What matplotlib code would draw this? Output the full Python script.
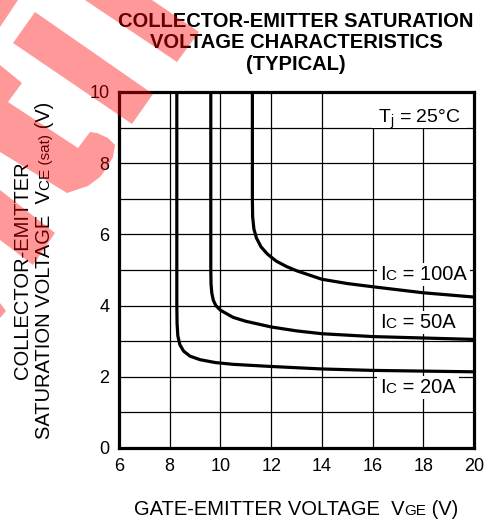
import numpy as np
import matplotlib; matplotlib.use('Agg')
import matplotlib.pyplot as plt
import matplotlib.transforms as mtransforms
from matplotlib.patches import Polygon, Rectangle

plt.rcParams['font.family'] = ['Liberation Sans', 'DejaVu Sans']
plt.rcParams['mathtext.fontset'] = 'custom'
plt.rcParams['mathtext.rm'] = 'Liberation Sans'

# curves (VGE [V], VCE(sat) [V])
VGE_20A = [8.28, 8.28, 8.29, 8.32, 8.40, 8.55, 8.80, 9.20, 9.80, 10.5, 12.0, 14.0, 16.0, 18.0, 20.0]
VCE_20A = [10.5, 4.00, 3.50, 3.15, 2.90, 2.72, 2.58, 2.48, 2.40, 2.35, 2.29, 2.22, 2.18, 2.16, 2.14]
VGE_50A = [9.62, 9.62, 9.63, 9.66, 9.72, 9.82, 10.0, 10.5, 11.0, 12.0, 13.0, 14.0, 16.0, 18.0, 20.0]
VCE_50A = [10.5, 5.00, 4.60, 4.35, 4.15, 4.00, 3.87, 3.67, 3.56, 3.40, 3.29, 3.21, 3.13, 3.09, 3.05]
VGE_100A = [11.26, 11.26, 11.27, 11.32, 11.42, 11.6, 11.85, 12.2, 12.6, 13.0, 14.0, 15.0, 16.0, 18.0, 20.0]
VCE_100A = [10.5, 7.00, 6.50, 6.15, 5.90, 5.65, 5.45, 5.25, 5.10, 4.98, 4.74, 4.62, 4.53, 4.36, 4.24]
CURVE_LABELS = ['100A', '50A', '20A']
LABEL_X = [16.29, 16.29, 16.29]
LABEL_Y = [4.72, 3.37, 1.54]

X_TICKS = [6, 8, 10, 12, 14, 16, 18, 20]
Y_TICKS = [0, 2, 4, 6, 8, 10]
Y_GRID = [0, 1, 2, 3, 4, 5, 6, 7, 8, 9, 10]

TITLE = ['COLLECTOR-EMITTER SATURATION', 'VOLTAGE CHARACTERISTICS', '(TYPICAL)']

# red watermark pieces, image pixels (x right, y down)
WATERMARK = [
    [(0, 0), (18, 0), (0, 27)],
    [(85, 0), (177, 62), (199, 32), (152, 0)],
    [(35, 12), (153, 94), (132, 124), (13, 43)],
    [(0, 65), (22, 83), (8, 102), (78, 148), (84, 140), (90, 132), (97, 133), (108, 138),
     (115, 145), (113, 157), (107, 168), (100, 177), (88, 186), (67, 193), (0, 152)],
    [(0, 190), (55, 233), (33, 265), (0, 240)],
    [(0, 303), (6, 311), (0, 318)],
]

W, H = 491, 522
fig = plt.figure(figsize=(W / 100, H / 100), dpi=100)
ax = fig.add_axes([119 / W, 1 - 448 / H, 355 / W, 356 / H])
ax.set_xlim(6, 20); ax.set_ylim(0, 10)
ax.set_xticks(X_TICKS); ax.set_yticks(Y_TICKS)
ax.set_yticks(Y_GRID, minor=True)
ax.grid(True, which='both', color='black', lw=0.9)
ax.tick_params(which='both', length=0, labelsize=13, pad=7)
for sp in ax.spines.values():
    sp.set_linewidth(2.3)

for x, y in [(VGE_20A, VCE_20A), (VGE_50A, VCE_50A), (VGE_100A, VCE_100A)]:
    ax.plot(x, y, color='black', lw=2.3, zorder=3)

rend = fig.canvas.get_renderer()
ident = mtransforms.IdentityTransform()

def text_w(s, fs):
    t = fig.text(0, 0, '|' + s + '|', fontsize=fs)
    w = t.get_window_extent(rend).width; t.remove()
    t = fig.text(0, 0, '||', fontsize=fs)
    w -= t.get_window_extent(rend).width; t.remove()
    return w

def rich(px, py, parts, rotation=0, ha='left', box=None, on=None):
    # parts: (string, fontsize) drawn side by side on one baseline; px, py in pixels
    widths = [text_w(s, fs) for s, fs in parts]
    total = sum(widths)
    off = {'left': 0, 'center': -total / 2, 'right': -total}[ha]
    c, s_ = np.cos(np.radians(rotation)), np.sin(np.radians(rotation))
    tgt = on if on is not None else fig
    if box is not None:
        l, b, r, t = box
        rect = Rectangle((px + off - l, py - b), total + l + r, b + t, transform=ident,
                         fc='white', ec='none', zorder=2.2)
        if on is not None: on.add_patch(rect)
        else: fig.add_artist(rect)
    for (s, fs), w in zip(parts, widths):
        tgt.text(px + off * c, py + off * s_, s, fontsize=fs, rotation=rotation,
                 rotation_mode='anchor', ha='left', va='baseline', transform=ident, zorder=3.5)
        off += w

# curve labels
for lab, lx, ly in zip(CURVE_LABELS, LABEL_X, LABEL_Y):
    px, py = ax.transData.transform((lx, ly))
    rich(px, py, [('I', 14.5), ('C', 11), (' = ' + lab, 14.5)], box=(3, 6, 4, 17), on=ax)

px, py = ax.transData.transform((16.21, 9.13))
rich(px, py, [(r'T$_\mathregular{j}$ = 25°C', 14)], box=(6, 5, 7, 40), on=ax)

# axis labels
rich(296, H - 515, [('GATE-EMITTER VOLTAGE  V', 14.5), ('GE', 11), (' (V)', 14.5)], ha='center')
fig.text(28, H - 270, 'COLLECTOR-EMITTER', fontsize=14.5, rotation=90, rotation_mode='anchor',
         ha='center', va='baseline', transform=ident)
rich(50, H - 270, [('SATURATION VOLTAGE  V', 14.5), ('CE (sat)', 11), (' (V)', 14.5)],
     rotation=90, ha='center')

for i, line in enumerate(TITLE):
    fig.text(296, H - (27 + 21.5 * i), line, fontsize=14.5, fontweight='bold',
             ha='center', va='baseline', transform=ident)

flip = mtransforms.Affine2D().scale(1, -1).translate(0, H)
for pts in WATERMARK:
    fig.add_artist(Polygon(pts, closed=True, transform=flip, fc='red', ec='none',
                           alpha=0.4, zorder=10))

fig.savefig('out.png', dpi=100, facecolor='white')
